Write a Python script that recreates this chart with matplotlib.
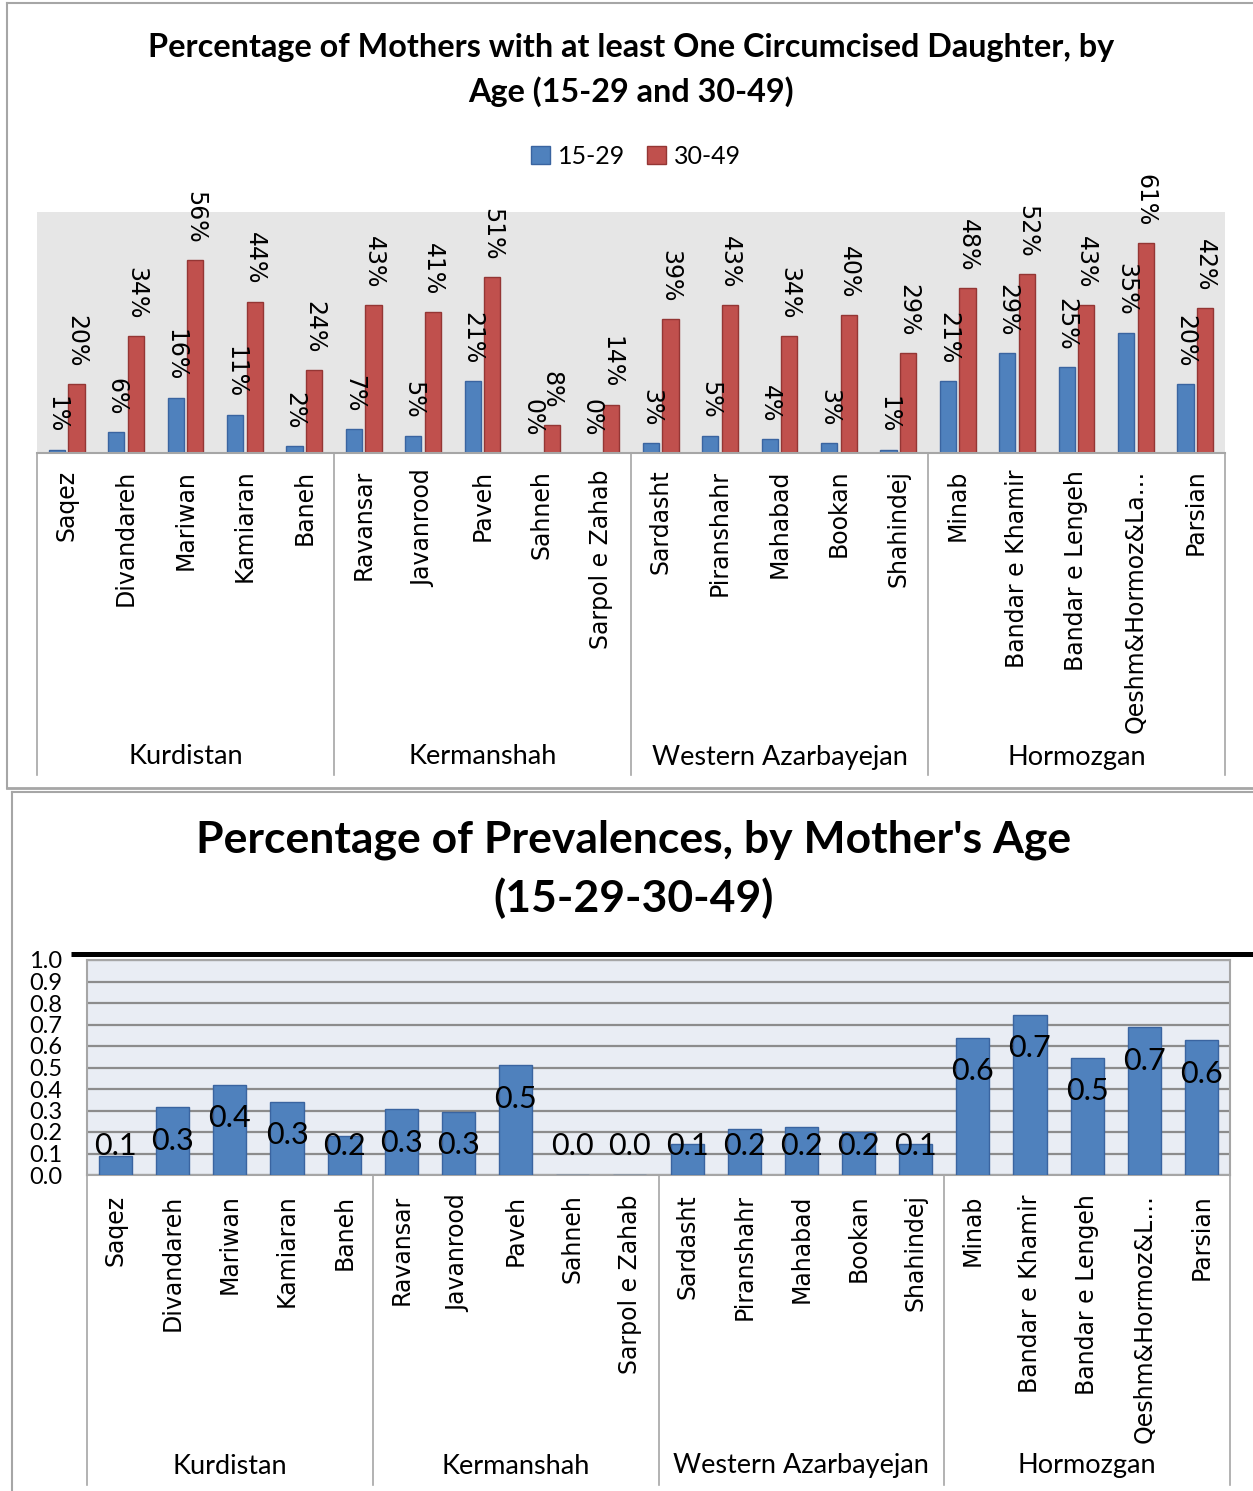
import numpy as np
import matplotlib
matplotlib.use("Agg")
import matplotlib.pyplot as plt
from matplotlib.transforms import blended_transform_factory

# ---- data ----
provinces = ["Kurdistan", "Kermanshah", "Western Azarbayejan", "Hormozgan"]
cities_top = ["Saqez", "Divandareh", "Mariwan", "Kamiaran", "Baneh",
              "Ravansar", "Javanrood", "Paveh", "Sahneh", "Sarpol e Zahab",
              "Sardasht", "Piranshahr", "Mahabad", "Bookan", "Shahindej",
              "Minab", "Bandar e Khamir", "Bandar e Lengeh", "Qeshm&Hormoz&La\u2026", "Parsian"]
cities_bottom = cities_top[:18] + ["Qeshm&Hormoz&L\u2026", "Parsian"]
age_15_29 = [1, 6, 16, 11, 2, 7, 5, 21, 0, 0, 3, 5, 4, 3, 1, 21, 29, 25, 35, 20]
age_30_49 = [20, 34, 56, 44, 24, 43, 41, 51, 8, 14, 39, 43, 34, 40, 29, 48, 52, 43, 61, 42]
prevalence = [0.088, 0.315, 0.42, 0.34, 0.18, 0.305, 0.295, 0.51, 0.0, 0.0,
              0.144, 0.215, 0.222, 0.198, 0.144, 0.639, 0.746, 0.546, 0.687, 0.626]
legend_labels = ["15-29", "30-49"]

W, H = 1253, 1491
BLUE, BLUE_EDGE = "#4F81BD", "#3A64A0"
RED, RED_EDGE = "#C0504D", "#943634"
GRAY = "#a6a6a6"
TITLE_FONT = "Lato"
TICK_FONT = "DejaVu Sans"


def box(x0, y0, x1, y1):
    # pixel box (top-left origin) -> figure fraction
    return [x0 / W, 1 - y1 / H, (x1 - x0) / W, (y1 - y0) / H]


fig = plt.figure(figsize=(W / 100, H / 100), dpi=100)

# decoration layer in pixel coords
deco = fig.add_axes([0, 0, 1, 1], zorder=-1)
deco.set_xlim(0, W)
deco.set_ylim(H, 0)
deco.axis("off")
deco.plot([7, W], [3, 3], color=GRAY, lw=1.5)
deco.plot([7, 7], [3, 788], color=GRAY, lw=1.5)
deco.plot([7, W], [788, 788], color=GRAY, lw=2)
deco.plot([12, W], [792, 792], color=GRAY, lw=1.5)
deco.plot([12, 12], [792, H], color=GRAY, lw=1.5)
deco.plot([71, W], [954, 954], color="black", lw=3.6, solid_capstyle="butt")

deco.text(631, 48, "Percentage of Mothers with at least One Circumcised Daughter, by",
          ha="center", va="center", fontsize=23.3, fontweight="bold", family=TITLE_FONT)
deco.text(631, 92, "Age (15-29 and 30-49)",
          ha="center", va="center", fontsize=23.3, fontweight="bold", family=TITLE_FONT)
deco.text(634, 840, "Percentage of Prevalences, by Mother's Age",
          ha="center", va="center", fontsize=32, fontweight="bold", family=TITLE_FONT)
deco.text(634, 898, "(15-29-30-49)",
          ha="center", va="center", fontsize=32, fontweight="bold", family=TITLE_FONT)

x = np.arange(len(cities_top))
bounds = [-0.5, 4.5, 9.5, 14.5, 19.5]
centers = [2, 7, 12, 17]

# ---- top chart ----
ax1 = fig.add_axes(box(37, 212, 1225, 453))
ax1.set_facecolor("#e6e6e6")
b1 = ax1.bar(x - 0.165, age_15_29, 0.27, color=BLUE, edgecolor=BLUE_EDGE, lw=1, label=legend_labels[0])
b2 = ax1.bar(x + 0.165, age_30_49, 0.27, color=RED, edgecolor=RED_EDGE, lw=1, label=legend_labels[1])
ax1.set_xlim(-0.5, 19.5)
ax1.set_ylim(0, 70)
ax1.set_yticks([])
for s in ["top", "left", "right"]:
    ax1.spines[s].set_visible(False)
ax1.spines["bottom"].set_color(GRAY)
ax1.spines["bottom"].set_linewidth(1.5)
ax1.set_xticks(x)
ax1.set_xticklabels(cities_top, rotation=90, fontsize=17, family=TICK_FONT, va="top")
ax1.tick_params(axis="x", length=0, pad=12)

for bars, vals in [(b1, age_15_29), (b2, age_30_49)]:
    for r, v in zip(bars, vals):
        ax1.annotate(f"{v}%", (r.get_x() + r.get_width() / 2, v), xytext=(0, 12),
                     textcoords="offset points", rotation=-90, ha="center", va="bottom",
                     fontsize=17, family=TICK_FONT)

tr1 = blended_transform_factory(ax1.transData, ax1.transAxes)
for b in bounds:
    ax1.plot([b, b], [0, -(775 - 453) / 241], transform=tr1, clip_on=False, color=GRAY, lw=1.2)
for c, name in zip(centers, provinces):
    ax1.text(c, -(757 - 453) / 241, name, transform=tr1, ha="center", va="center",
             fontsize=19.5, family=TITLE_FONT)

ax1.legend(loc="center", bbox_to_anchor=(636 / W, 1 - 156 / H), bbox_transform=fig.transFigure,
           ncol=2, frameon=False, handlelength=0.75, handleheight=0.75, handletextpad=0.3,
           columnspacing=0.9, prop={"family": TITLE_FONT, "size": 18})

# ---- bottom chart ----
ax2 = fig.add_axes(box(87, 960, 1230, 1175))
ax2.set_facecolor("#e9edf4")
ax2.bar(x, prevalence, 0.58, color=BLUE, edgecolor=BLUE_EDGE, lw=1, zorder=3)
ax2.set_xlim(-0.5, 19.5)
ax2.set_ylim(0, 1)
ax2.set_yticks(np.arange(0, 1.01, 0.1))
ax2.set_yticklabels([f"{t:.1f}" for t in np.arange(0, 1.01, 0.1)], fontsize=17, family=TITLE_FONT)
ax2.yaxis.grid(True, color="#8c8c8c", lw=1.6)
ax2.set_axisbelow(True)
for s in ax2.spines.values():
    s.set_color(GRAY)
    s.set_linewidth(1.5)
ax2.tick_params(axis="y", length=0, pad=18)
ax2.set_xticks(x)
ax2.set_xticklabels(cities_bottom, rotation=90, fontsize=17, family=TICK_FONT, va="top")
ax2.tick_params(axis="x", length=0, pad=14)

for i, v in enumerate(prevalence):
    ax2.text(i, max(v - 0.155, 0.135), f"{v:.1f}", ha="center", va="center",
             fontsize=22, family=TITLE_FONT, zorder=4)

tr2 = blended_transform_factory(ax2.transData, ax2.transAxes)
for b in bounds:
    ax2.plot([b, b], [0, -(1485 - 1175) / 215], transform=tr2, clip_on=False, color=GRAY, lw=1.2)
for c, name in zip(centers, provinces):
    ax2.text(c, -(1466 - 1175) / 215, name, transform=tr2, ha="center", va="center",
             fontsize=19.5, family=TITLE_FONT)

fig.savefig("out.png", dpi=100)
